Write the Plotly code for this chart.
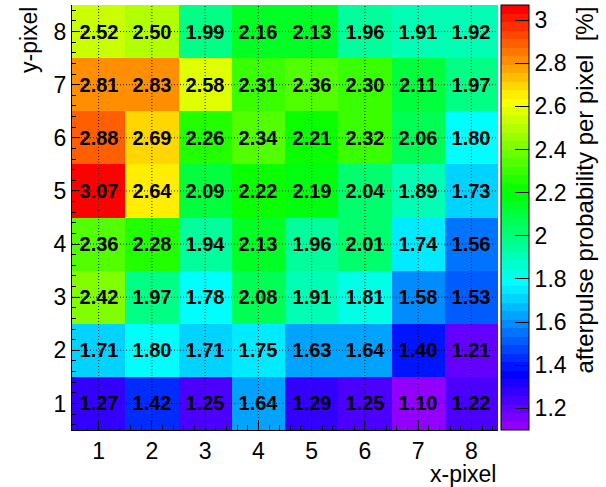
import colorsys
import plotly.graph_objects as go

# ---- data ----
x_pixels = [1, 2, 3, 4, 5, 6, 7, 8]
y_pixels = [1, 2, 3, 4, 5, 6, 7, 8]
# rows ordered y = 1 .. 8
row_y1 = [1.27, 1.42, 1.25, 1.64, 1.29, 1.25, 1.10, 1.22]
row_y2 = [1.71, 1.80, 1.71, 1.75, 1.63, 1.64, 1.40, 1.21]
row_y3 = [2.42, 1.97, 1.78, 2.08, 1.91, 1.81, 1.58, 1.53]
row_y4 = [2.36, 2.28, 1.94, 2.13, 1.96, 2.01, 1.74, 1.56]
row_y5 = [3.07, 2.64, 2.09, 2.22, 2.19, 2.04, 1.89, 1.73]
row_y6 = [2.88, 2.69, 2.26, 2.34, 2.21, 2.32, 2.06, 1.80]
row_y7 = [2.81, 2.83, 2.58, 2.31, 2.36, 2.30, 2.11, 1.97]
row_y8 = [2.52, 2.50, 1.99, 2.16, 2.13, 1.96, 1.91, 1.92]
z_values = [row_y1, row_y2, row_y3, row_y4, row_y5, row_y6, row_y7, row_y8]

x_title = "x-pixel"
y_title = "y-pixel"
z_title = "afterpulse probability per pixel\u00a0\u00a0[%]"

# ---- ROOT "pretty palette" (50 colours, violet -> red), discrete bands ----
n_col = 50
colors = []
for i in range(n_col):
    hue = 280.0 - (i + 1) * (280.0 / n_col)
    r, g, b = colorsys.hls_to_rgb(max(hue, 0) / 360.0, 0.5, 1.0)
    colors.append(f"rgb({round(r*255)},{round(g*255)},{round(b*255)})")
colorscale = []
for i, c in enumerate(colors):
    colorscale.append([i / n_col, c])
    colorscale.append([(i + 1) / n_col, c])

flat = [v for row in z_values for v in row]
zmin, zmax = min(flat), max(flat)

FONT = "Liberation Sans, Arial, Helvetica, sans-serif"

fig = go.Figure()
fig.add_trace(go.Heatmap(
    x=x_pixels, y=y_pixels, z=z_values,
    zmin=zmin, zmax=zmax, colorscale=colorscale,
    texttemplate="%{z:.2f}",
    textfont=dict(family=FONT, size=20, color="black", weight="bold"),
    hoverongaps=False,
    colorbar=dict(
        thickness=28, thicknessmode="pixels",
        len=1, lenmode="fraction", y=0.5, yanchor="middle", ypad=0,
        x=1.007, xanchor="left", xpad=0,
        outlinewidth=1, outlinecolor="black",
        tickmode="linear", tick0=1.2, dtick=0.2,
        ticks="inside", ticklen=14, tickcolor="black", tickwidth=1,
        tickfont=dict(family=FONT, size=23, color="black"),
    ),
))

# dotted grid lines at tick positions, drawn over the cells
grid_line = dict(color="rgba(0,0,0,0.85)", width=1, dash="1px,2px")
for xv in x_pixels:
    fig.add_shape(type="line", xref="x", yref="paper", x0=xv, x1=xv, y0=0, y1=1,
                  line=grid_line, layer="above")
for yv in y_pixels:
    fig.add_shape(type="line", xref="paper", yref="y", x0=0, x1=1, y0=yv, y1=yv,
                  line=grid_line, layer="above")

axis_common = dict(
    tickmode="linear", dtick=1, tick0=1,
    showline=True, linecolor="black", linewidth=1, mirror=False,
    showgrid=False, zeroline=False,
    ticks="inside", tickcolor="black", tickwidth=1,
    tickfont=dict(family=FONT, size=23, color="black"),
    layer="above traces",
)
fig.update_xaxes(range=[0.5, 8.5], ticklen=9,
                 minor=dict(dtick=0.2, tick0=0, ticks="inside", ticklen=5, tickcolor="black", showgrid=False),
                 **axis_common)
fig.update_yaxes(range=[0.5, 8.5], ticklen=8,
                 minor=dict(dtick=0.2, tick0=0, ticks="inside", ticklen=4, tickcolor="black", showgrid=False),
                 **axis_common)

fig.add_annotation(text=x_title, xref="paper", yref="paper", x=1, y=0,
                   xanchor="right", yanchor="top", yshift=-29, showarrow=False,
                   font=dict(family=FONT, size=23, color="black"))
fig.add_annotation(text=y_title, xref="paper", yref="paper", x=0, y=1,
                   xanchor="center", yanchor="top", xshift=-43, textangle=-90, showarrow=False,
                   font=dict(family=FONT, size=23, color="black"))
fig.add_annotation(text=z_title, xref="paper", yref="paper", x=1, y=1,
                   xanchor="center", yanchor="top", xshift=86, textangle=-90, showarrow=False,
                   font=dict(family=FONT, size=24, color="black"))

fig.update_layout(
    width=606, height=487,
    margin=dict(l=72, r=108, t=5, b=57),
    paper_bgcolor="white", plot_bgcolor="white",
    font=dict(family=FONT, color="black"),
    showlegend=False,
)

fig.write_html("out.html")
